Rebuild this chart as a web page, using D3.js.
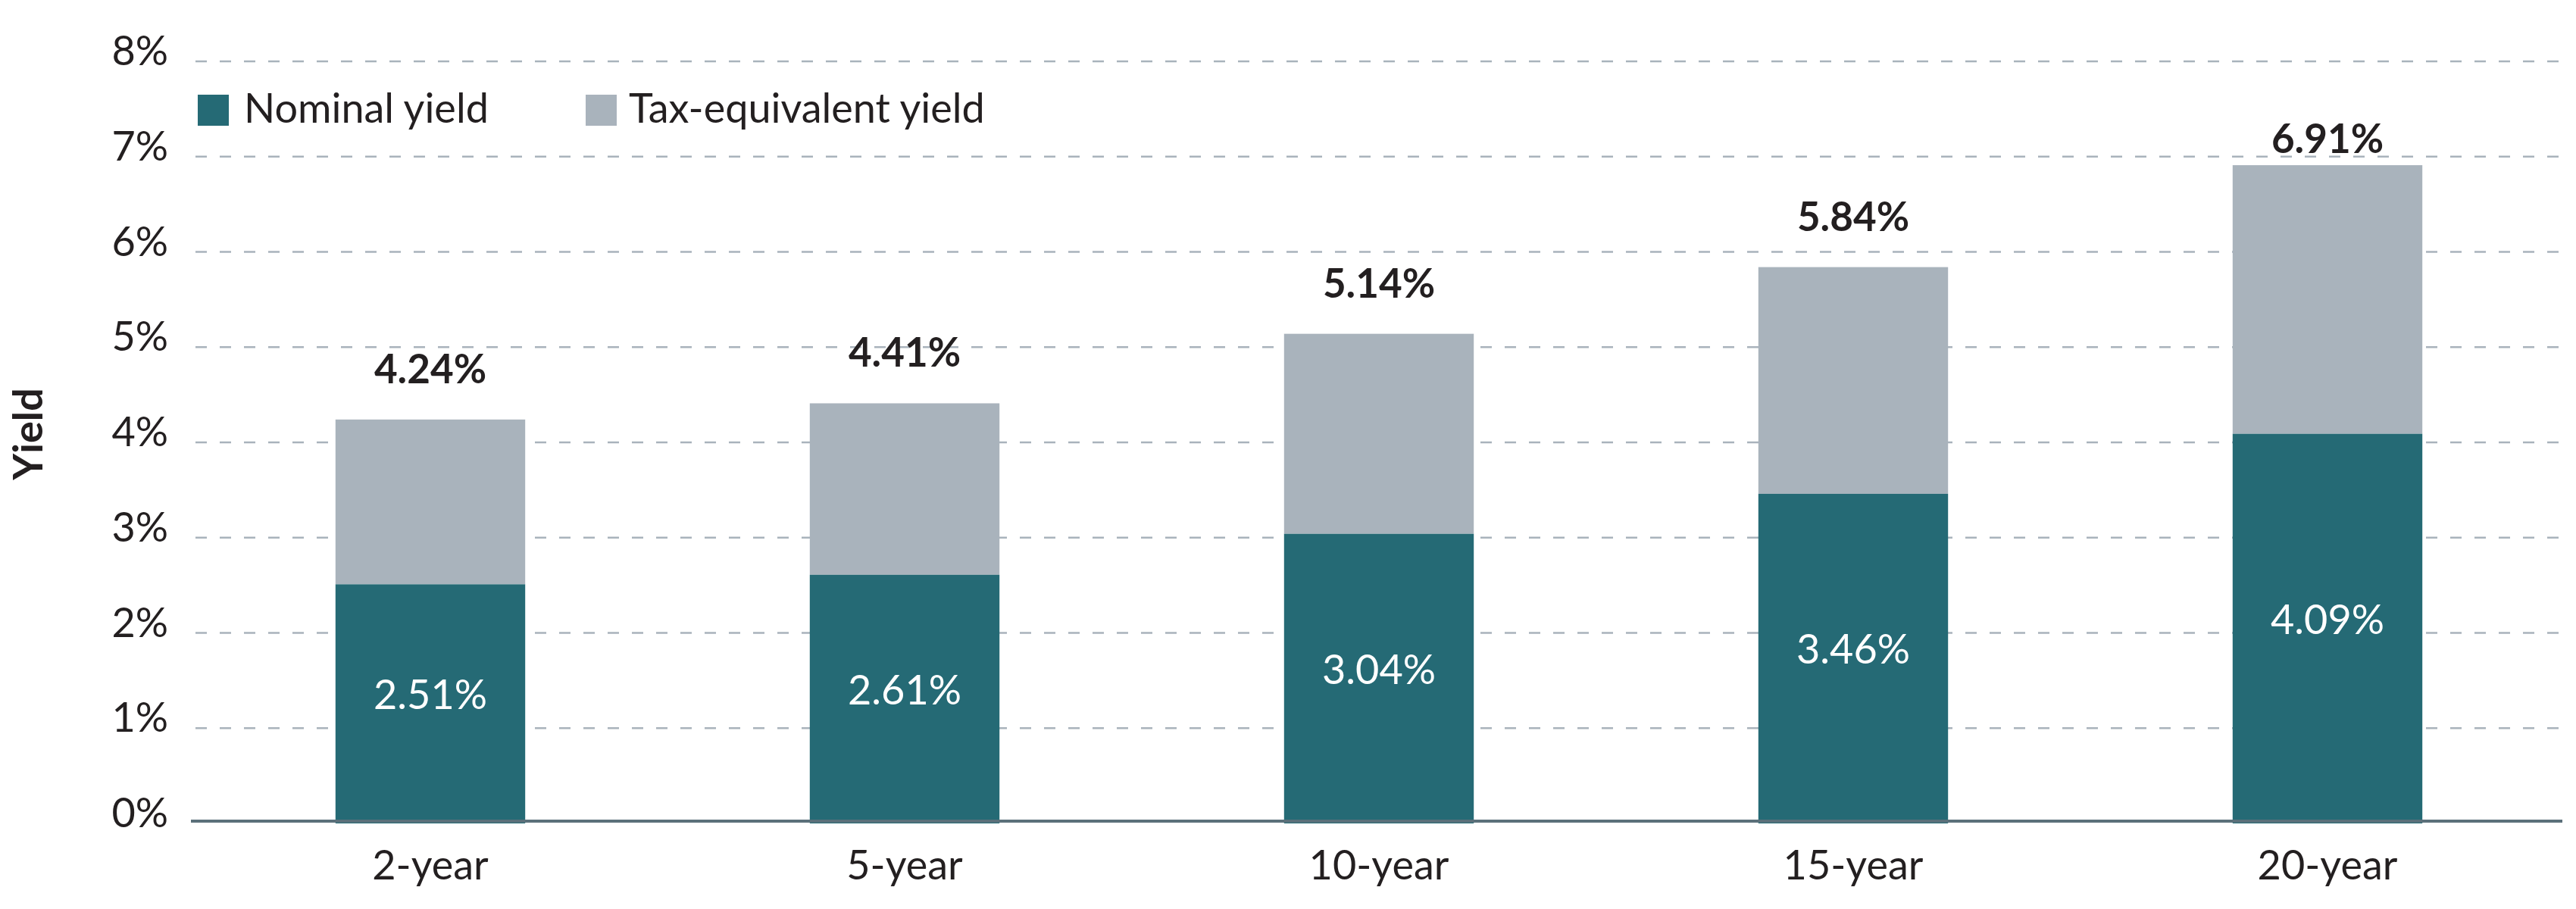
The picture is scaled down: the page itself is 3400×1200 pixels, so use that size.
<!DOCTYPE html>
<html>
<head>
<meta charset="utf-8">
<script src="https://cdn.jsdelivr.net/npm/d3@7"></script>
<style>
  body { margin: 0; background: #fff; }
  text { font-family: Lato, "Open Sans", sans-serif; fill: #231f20; }
</style>
</head>
<body>
<script>
// chart data
const terms = ["2-year", "5-year", "10-year", "15-year", "20-year"];
const nominal = [2.51, 2.61, 3.04, 3.46, 4.09];
const taxEquivalent = [4.24, 4.41, 5.14, 5.84, 6.91];
const yTicks = [0, 1, 2, 3, 4, 5, 6, 7, 8];
const seriesNames = ["Nominal yield", "Tax-equivalent yield"];

const teal = "#256a75", grey = "#a9b3bc";

let svg = d3.select("body").append("svg")
    .attr("width", 3400)
    .attr("height", 1200);

let x = d3.scaleBand().domain(terms).range([255, 3385]).paddingInner(0.6).paddingOuter(0.3);
let y = d3.scaleLinear().domain([0, 8]).range([1087, 81]);

// gridlines
svg.append("g").selectAll("line").data(yTicks.filter(d => d > 0)).enter().append("line")
    .attr("x1", 258).attr("x2", 3382)
    .attr("y1", d => y(d)).attr("y2", d => y(d))
    .attr("stroke", grey)
    .attr("stroke-width", 2.5)
    .attr("stroke-dasharray", "15,17");

// y labels
svg.append("g").selectAll("text").data(yTicks).enter().append("text")
    .attr("x", 222)
    .attr("y", d => y(d) + 5)
    .attr("text-anchor", "end")
    .style("font-size", "54px")
    .text(d => d + "%");

// y title
svg.append("text")
    .attr("transform", "translate(56,573) rotate(-90)")
    .attr("text-anchor", "middle")
    .style("font-size", "54px")
    .style("font-weight", "bold")
    .text("Yield");

// stacked bars
let rows = terms.map((t, i) => ({term: t, nom: nominal[i], total: taxEquivalent[i]}));

let bars = svg.append("g").selectAll("g").data(rows).enter().append("g");

bars.append("rect")
    .attr("x", d => x(d.term))
    .attr("width", x.bandwidth())
    .attr("y", d => y(d.total))
    .attr("height", d => y(d.nom) - y(d.total))
    .attr("fill", grey);

bars.append("rect")
    .attr("x", d => x(d.term))
    .attr("width", x.bandwidth())
    .attr("y", d => y(d.nom))
    .attr("height", d => y(0) - y(d.nom))
    .attr("fill", teal);

// nominal labels inside the bar
bars.append("text")
    .attr("x", d => x(d.term) + x.bandwidth() / 2)
    .attr("y", d => (y(d.nom) + y(0)) / 2 + 7)
    .attr("text-anchor", "middle")
    .style("font-size", "54px")
    .style("fill", "#fff")
    .text(d => d.nom.toFixed(2) + "%");

// total labels above bar (kept under the 7% line at the top)
bars.append("text")
    .attr("x", d => x(d.term) + x.bandwidth() / 2)
    .attr("y", d => Math.max(y(d.total) - 48, y(7) - 5))
    .attr("text-anchor", "middle")
    .style("font-size", "53px")
    .style("font-weight", "bold")
    .text(d => d.total.toFixed(2) + "%");

// baseline
svg.append("line")
    .attr("x1", 252).attr("x2", 3382)
    .attr("y1", y(0) - 3).attr("y2", y(0) - 3)
    .attr("stroke", "#5b707a")
    .attr("stroke-width", 4);

// x labels
svg.append("g").selectAll("text").data(terms).enter().append("text")
    .attr("x", d => x(d) + x.bandwidth() / 2)
    .attr("y", 1161)
    .attr("text-anchor", "middle")
    .style("font-size", "54px")
    .text(d => d);

// legend
let legendX = [261, 773];
let legend = svg.append("g").selectAll("g").data(seriesNames).enter().append("g")
    .attr("transform", (d, i) => "translate(" + legendX[i] + ",125)");
legend.append("rect")
    .attr("width", 41).attr("height", 41)
    .attr("fill", (d, i) => i === 0 ? teal : grey);
legend.append("text")
    .attr("x", (d, i) => i === 0 ? 61 : 57)
    .attr("y", 37)
    .style("font-size", "54px")
    .text(d => d);
</script>
</body>
</html>
